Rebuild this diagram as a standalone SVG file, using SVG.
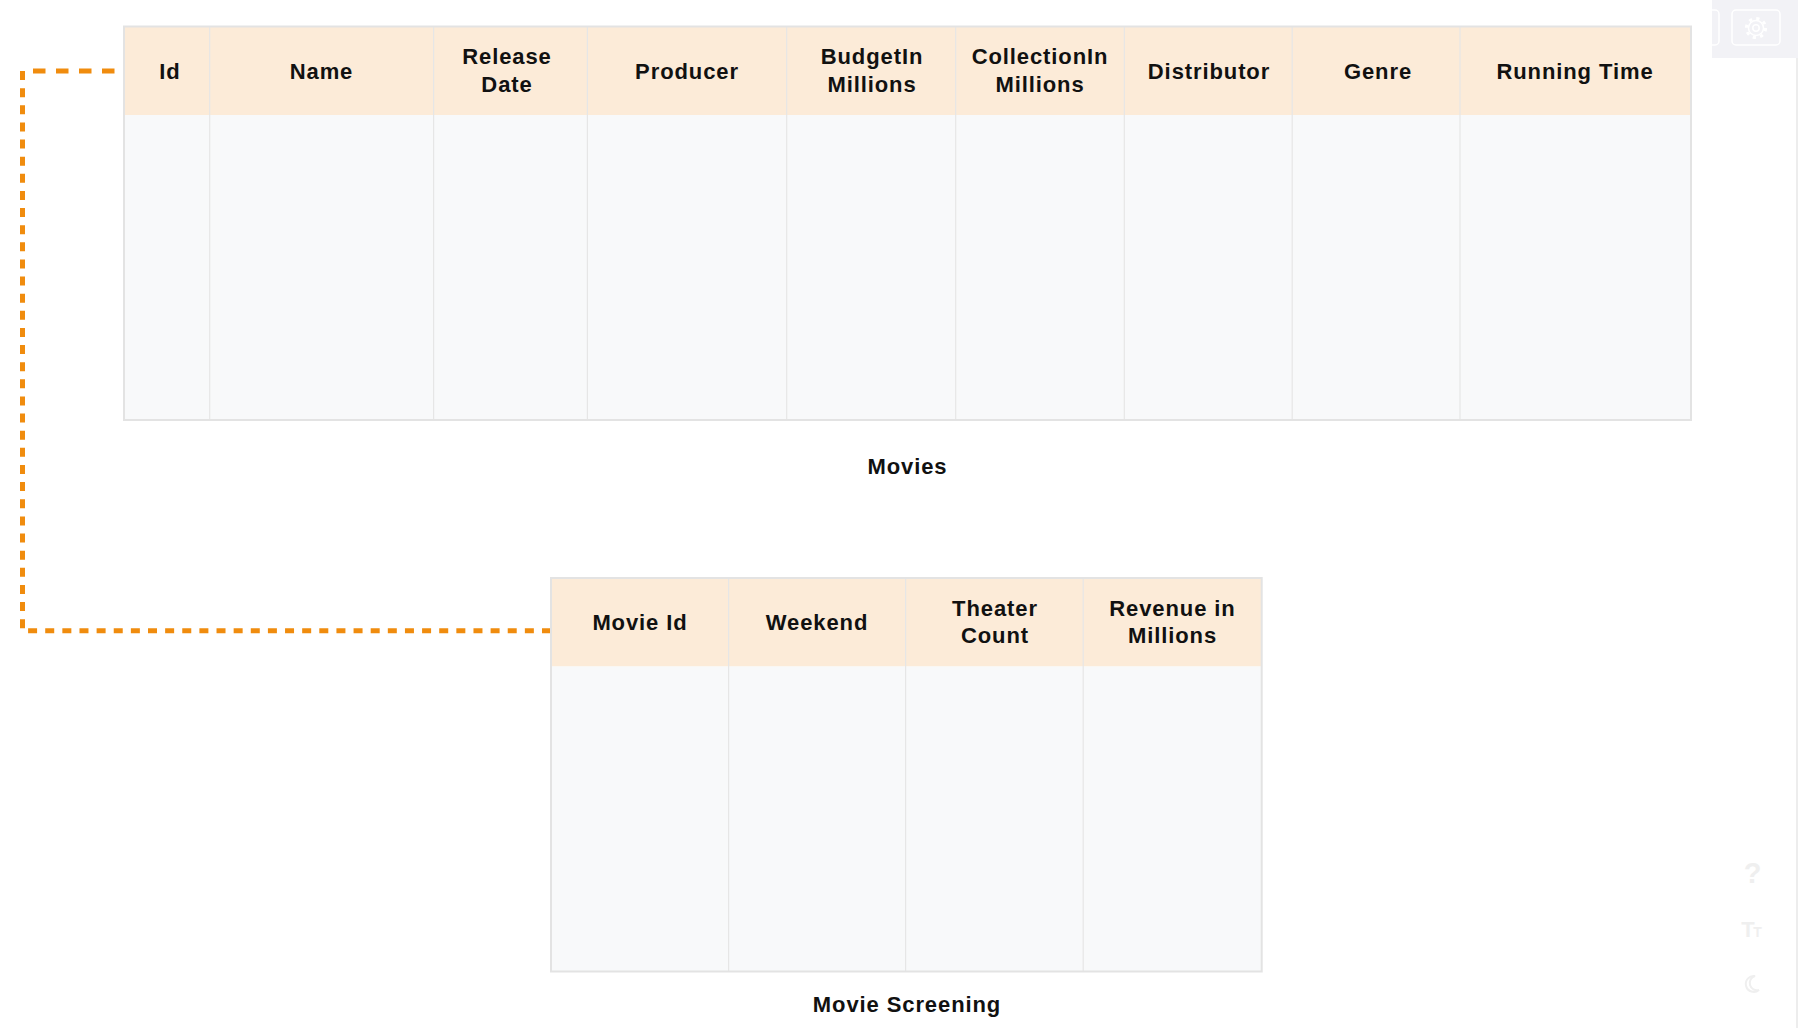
<svg xmlns="http://www.w3.org/2000/svg" width="1798" height="1028" viewBox="0 0 1798 1028">
<defs>
<style>
.hdr{fill:#FCEBD8}
.body{fill:#F8F9FA}
.frame{fill:none;stroke:#E3E3E3;stroke-width:2}
.div{stroke:#E6E6E6;stroke-width:1.2}
.t{font-family:"Liberation Sans",Arial,sans-serif;font-weight:bold;font-size:22px;letter-spacing:0.9px;fill:#111;text-anchor:middle}
.cap{font-family:"Liberation Sans",Arial,sans-serif;font-weight:bold;font-size:22px;letter-spacing:0.9px;fill:#111;text-anchor:middle}
.conn{fill:none;stroke:#F08C0E;stroke-width:5}
.ui{fill:none;stroke:#FFFFFF;stroke-width:1.5}
.faint{font-family:"Liberation Sans",Arial,sans-serif;font-weight:bold;fill:#EFEFEF;text-anchor:middle}
</style>
<clipPath id="panelClip"><rect x="1712" y="0" width="86" height="58"/></clipPath>
</defs>
<rect x="0" y="0" width="1798" height="1028" fill="#FFFFFF"/>

<!-- UI chrome -->
<g id="toolbar">
<rect x="1712" y="0" width="86" height="58" fill="#F2F2F6"/>
<g clip-path="url(#panelClip)">
<rect x="1680" y="10" width="39" height="35" rx="4" class="ui"/>
</g>
<rect x="1732" y="10" width="48" height="35" rx="4" class="ui"/>
<circle cx="1756" cy="28" r="7.5" class="ui"/>
<circle cx="1756" cy="28" r="3.2" class="ui"/>
<circle cx="1756" cy="28" r="9.6" fill="none" stroke="#FFFFFF" stroke-width="3" stroke-dasharray="3.2 4.34"/>
<rect x="1796" y="58" width="2" height="970" fill="#EDEDED"/>
<text x="1752.5" y="883" class="faint" font-size="29">?</text>
<text x="1748" y="937" class="faint" font-size="22">T</text>
<text x="1757.5" y="937" class="faint" font-size="14">T</text>
<path d="M1755 976 A8 8 0 1 0 1759 990 A6.5 6.5 0 0 1 1755 976 Z" fill="none" stroke="#EFEFEF" stroke-width="2"/>
</g>

<!-- connectors -->
<g id="connectors">
<path class="conn" d="M114.5 71 H26" stroke-dasharray="12.5 10.5"/>
<path class="conn" d="M22.5 71 V630.7 H551" stroke-dasharray="9 8.13"/>
</g>

<!-- Movies table -->
<g id="movies">
<rect x="124" y="26.5" width="1567" height="88.5" class="hdr"/>
<rect x="124" y="115" width="1567" height="305" class="body"/>
<g class="div">
<line x1="209.7" y1="26.5" x2="209.7" y2="420"/>
<line x1="433.6" y1="26.5" x2="433.6" y2="420"/>
<line x1="587.4" y1="26.5" x2="587.4" y2="420"/>
<line x1="786.7" y1="26.5" x2="786.7" y2="420"/>
<line x1="955.7" y1="26.5" x2="955.7" y2="420"/>
<line x1="1124.3" y1="26.5" x2="1124.3" y2="420"/>
<line x1="1292.2" y1="26.5" x2="1292.2" y2="420"/>
<line x1="1460" y1="26.5" x2="1460" y2="420"/>
</g>
<rect x="124" y="26.5" width="1567" height="393.5" class="frame"/>
<text class="t" x="170" y="78.5">Id</text>
<text class="t" x="321.5" y="78.5">Name</text>
<text class="t" x="507" y="64">Release</text>
<text class="t" x="507" y="91.5">Date</text>
<text class="t" x="687" y="78.5">Producer</text>
<text class="t" x="872" y="64">BudgetIn</text>
<text class="t" x="872" y="91.5">Millions</text>
<text class="t" x="1040" y="64">CollectionIn</text>
<text class="t" x="1040" y="91.5">Millions</text>
<text class="t" x="1209" y="78.5">Distributor</text>
<text class="t" x="1378" y="78.5">Genre</text>
<text class="t" x="1575" y="78.5">Running Time</text>
<text class="cap" x="907.5" y="474">Movies</text>
</g>

<!-- Movie Screening table -->
<g id="movie-screening">
<rect x="551" y="578" width="710.7" height="88.5" class="hdr"/>
<rect x="551" y="666.5" width="710.7" height="305" class="body"/>
<g class="div">
<line x1="728.6" y1="578" x2="728.6" y2="971.5"/>
<line x1="905.6" y1="578" x2="905.6" y2="971.5"/>
<line x1="1083.2" y1="578" x2="1083.2" y2="971.5"/>
</g>
<rect x="551" y="578" width="710.7" height="393.5" class="frame"/>
<text class="t" x="640" y="629.5">Movie Id</text>
<text class="t" x="817" y="629.5">Weekend</text>
<text class="t" x="995" y="615.5">Theater</text>
<text class="t" x="995" y="643">Count</text>
<text class="t" x="1172.5" y="615.5">Revenue in</text>
<text class="t" x="1172.5" y="643">Millions</text>
<text class="cap" x="907" y="1012">Movie Screening</text>
</g>
</svg>
